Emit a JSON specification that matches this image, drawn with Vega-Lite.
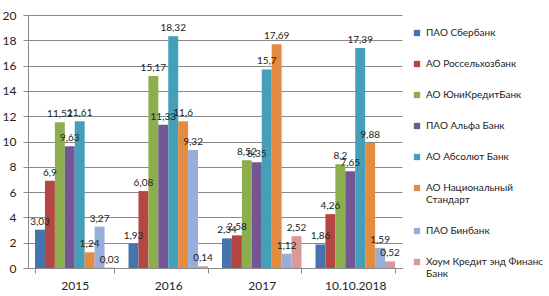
{
  "$schema": "https://vega.github.io/schema/vega-lite/v6.json",
  "autosize": "none",
  "width": 374,
  "height": 253,
  "padding": {"left": 28, "top": 15, "right": 147, "bottom": 28},
  "background": "white",
  "config": {
    "view": {"stroke": null},
    "font": "Lato",
    "locale": {"number": {"decimal": ",", "thousands": " ", "grouping": [3], "currency": ["", ""]}}
  },
  "data": {"values": [
    {"year": "2015", "bank": "ПАО Сбербанк", "value": 3.03},
    {"year": "2015", "bank": "АО Россельхозбанк", "value": 6.9},
    {"year": "2015", "bank": "АО ЮниКредитБанк", "value": 11.52},
    {"year": "2015", "bank": "ПАО Альфа Банк", "value": 9.63},
    {"year": "2015", "bank": "АО Абсолют Банк", "value": 11.61},
    {"year": "2015", "bank": "АО Национальный Стандарт", "value": 1.24},
    {"year": "2015", "bank": "ПАО Бинбанк", "value": 3.27},
    {"year": "2015", "bank": "Хоум Кредит энд Финанс Банк", "value": 0.03},
    {"year": "2016", "bank": "ПАО Сбербанк", "value": 1.93},
    {"year": "2016", "bank": "АО Россельхозбанк", "value": 6.08},
    {"year": "2016", "bank": "АО ЮниКредитБанк", "value": 15.17},
    {"year": "2016", "bank": "ПАО Альфа Банк", "value": 11.33},
    {"year": "2016", "bank": "АО Абсолют Банк", "value": 18.32},
    {"year": "2016", "bank": "АО Национальный Стандарт", "value": 11.6},
    {"year": "2016", "bank": "ПАО Бинбанк", "value": 9.32},
    {"year": "2016", "bank": "Хоум Кредит энд Финанс Банк", "value": 0.14},
    {"year": "2017", "bank": "ПАО Сбербанк", "value": 2.34},
    {"year": "2017", "bank": "АО Россельхозбанк", "value": 2.58},
    {"year": "2017", "bank": "АО ЮниКредитБанк", "value": 8.52},
    {"year": "2017", "bank": "ПАО Альфа Банк", "value": 8.35},
    {"year": "2017", "bank": "АО Абсолют Банк", "value": 15.7},
    {"year": "2017", "bank": "АО Национальный Стандарт", "value": 17.69},
    {"year": "2017", "bank": "ПАО Бинбанк", "value": 1.12},
    {"year": "2017", "bank": "Хоум Кредит энд Финанс Банк", "value": 2.52},
    {"year": "10.10.2018", "bank": "ПАО Сбербанк", "value": 1.86},
    {"year": "10.10.2018", "bank": "АО Россельхозбанк", "value": 4.26},
    {"year": "10.10.2018", "bank": "АО ЮниКредитБанк", "value": 8.2},
    {"year": "10.10.2018", "bank": "ПАО Альфа Банк", "value": 7.65},
    {"year": "10.10.2018", "bank": "АО Абсолют Банк", "value": 17.39},
    {"year": "10.10.2018", "bank": "АО Национальный Стандарт", "value": 9.88},
    {"year": "10.10.2018", "bank": "ПАО Бинбанк", "value": 1.59},
    {"year": "10.10.2018", "bank": "Хоум Кредит энд Финанс Банк", "value": 0.52}
  ]},
  "encoding": {
    "x": {
      "field": "year", "type": "nominal", "sort": ["2015", "2016", "2017", "10.10.2018"],
      "scale": {"paddingInner": 0.15, "paddingOuter": 0.075},
      "axis": {
        "title": null, "labelAngle": 0, "tickBand": "extent", "tickSize": 5,
        "tickColor": "#8a8a8a", "domainColor": "#8a8a8a", "labelFontSize": 12,
        "labelColor": "#222", "labelPadding": 7, "grid": false
      }
    },
    "xOffset": {
      "field": "bank", "type": "nominal",
      "scale": {"domain": ["ПАО Сбербанк", "АО Россельхозбанк", "АО ЮниКредитБанк", "ПАО Альфа Банк", "АО Абсолют Банк", "АО Национальный Стандарт", "ПАО Бинбанк", "Хоум Кредит энд Финанс Банк"], "paddingInner": 0, "paddingOuter": 0}
    },
    "y": {
      "field": "value", "type": "quantitative",
      "scale": {"domain": [0, 20], "nice": false},
      "axis": {
        "title": null, "values": [0, 2, 4, 6, 8, 10, 12, 14, 16, 18, 20],
        "tickSize": 5, "tickColor": "#8a8a8a", "domainColor": "#8a8a8a",
        "gridColor": "#8a8a8a", "labelFontSize": 12, "labelColor": "#222", "labelPadding": 7
      }
    }
  },
  "layer": [
    {
      "mark": {"type": "bar"},
      "encoding": {
        "color": {
          "field": "bank", "type": "nominal",
          "scale": {
            "domain": ["ПАО Сбербанк", "АО Россельхозбанк", "АО ЮниКредитБанк", "ПАО Альфа Банк", "АО Абсолют Банк", "АО Национальный Стандарт", "ПАО Бинбанк", "Хоум Кредит энд Финанс Банк"],
            "range": ["#4573AE", "#B44744", "#8DAE4F", "#735795", "#43A0B8", "#E48B42", "#97AEDA", "#DA9896"]
          },
          "legend": {
            "title": null, "orient": "none", "legendX": 384, "legendY": 13,
            "symbolType": "square", "symbolSize": 40, "symbolStrokeWidth": 0,
            "labelFontSize": 10, "labelColor": "#222", "rowPadding": 21, "labelOffset": 4,
            "labelLimit": 200,
            "labelExpr": "datum.label == 'АО Национальный Стандарт' ? ['АО Национальный', 'Стандарт'] : datum.label == 'Хоум Кредит энд Финанс Банк' ? ['Хоум Кредит энд Финанс', 'Банк'] : datum.label"
          }
        }
      }
    },
    {
      "mark": {"type": "text", "dy": -8, "fontSize": 10, "color": "#222"},
      "encoding": {
        "text": {"field": "value", "type": "quantitative", "format": "~f"}
      }
    }
  ]
}
